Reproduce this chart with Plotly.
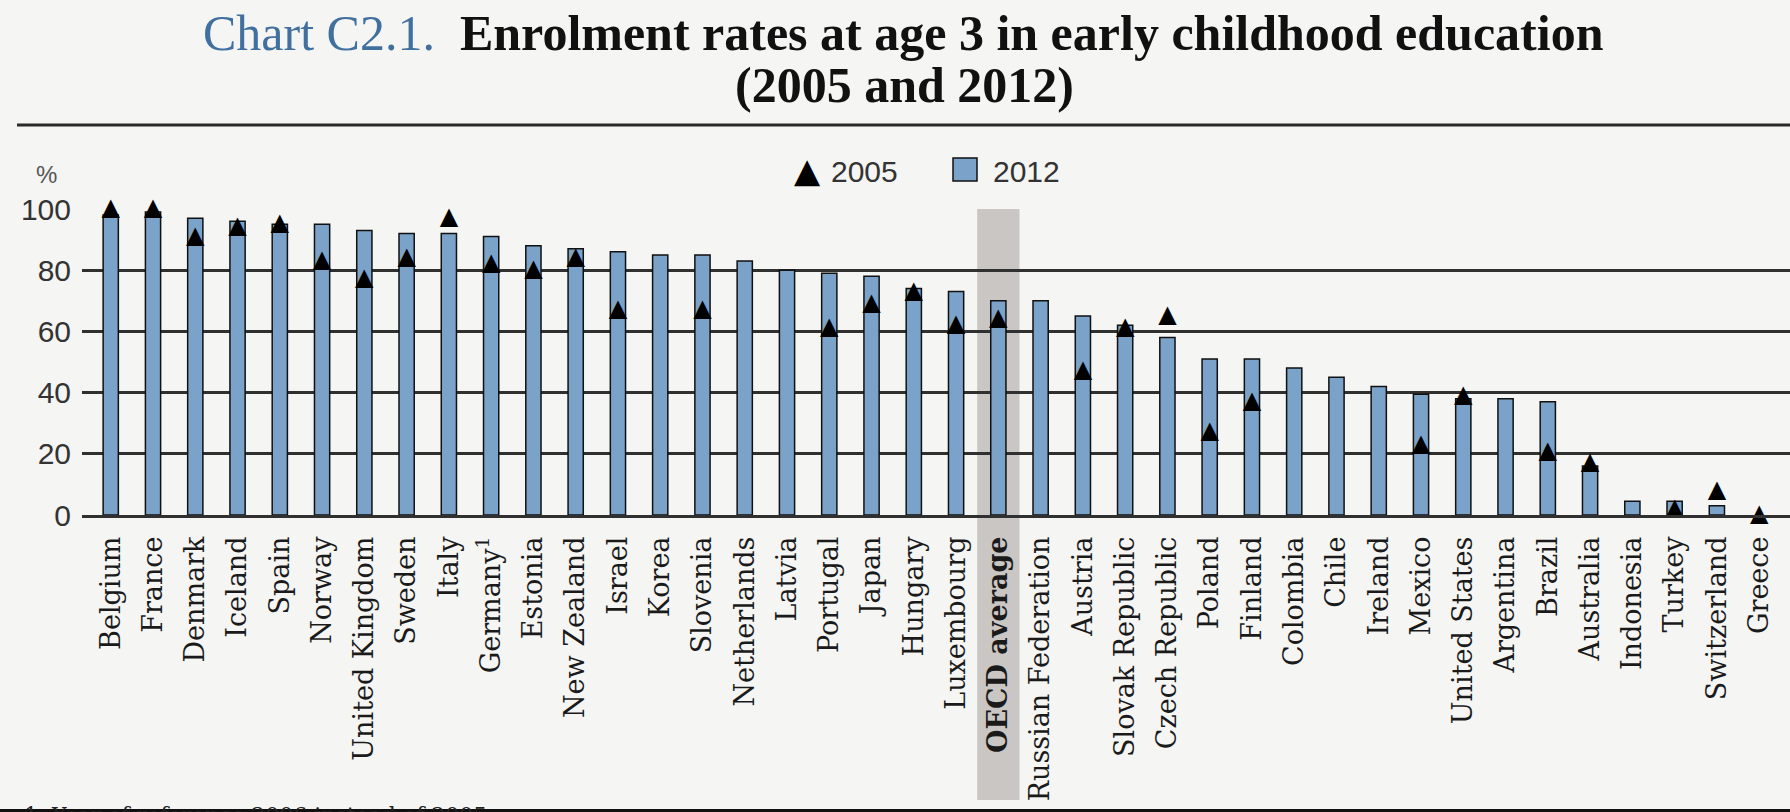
import plotly.graph_objects as go

# ---------------- data ----------------
countries = ["Belgium", "France", "Denmark", "Iceland", "Spain", "Norway", "United Kingdom",
             "Sweden", "Italy", "Germany", "Estonia", "New Zealand", "Israel", "Korea",
             "Slovenia", "Netherlands", "Latvia", "Portugal", "Japan", "Hungary", "Luxembourg",
             "OECD average", "Russian Federation", "Austria", "Slovak Republic", "Czech Republic",
             "Poland", "Finland", "Colombia", "Chile", "Ireland", "Mexico", "United States",
             "Argentina", "Brazil", "Australia", "Indonesia", "Turkey", "Switzerland", "Greece"]

tick_labels = ["Belgium", "France", "Denmark", "Iceland", "Spain", "Norway", "United Kingdom",
               "Sweden", "Italy", "Germany<sup>1</sup>", "Estonia", "New Zealand", "Israel", "Korea",
               "Slovenia", "Netherlands", "Latvia", "Portugal", "Japan", "Hungary", "Luxembourg",
               "<b>OECD average</b>", "Russian Federation", "Austria", "Slovak Republic", "Czech Republic",
               "Poland", "Finland", "Colombia", "Chile", "Ireland", "Mexico", "United States",
               "Argentina", "Brazil", "Australia", "Indonesia", "Turkey", "Switzerland", "Greece"]

enrol_2012 = [98, 99, 97, 96, 95, 95, 93, 92, 92, 91, 88, 87, 86, 85, 85, 83, 80, 79, 78, 74, 73,
              70, 70, 65, 62, 58, 51, 51, 48, 45, 42, 39.5, 38, 38, 37, 16, 4.5, 4.5, 3, None]

enrol_2005 = [100, 100, 91, 94, 95, 83, 77, 84, 97, 82, 80, 84, 67, None, 67, None, None, 61, 69,
              73, 62, 64, None, 47, 61, 65, 27, 37, None, None, None, 23, 39, None, 20.5, 17,
              None, 2, 8, 0]

y_ticks = [0, 20, 40, 60, 80, 100]
series_names = ["2005", "2012"]
highlight = "OECD average"

# ---------------- style ----------------
W, H = 1790, 812
L, R, T, B = 82, 0, 209, 297
PW, PH = W - L - R, H - T - B
BG = "#f5f5f4"
BLUE = "#7ba2c8"
GRID = "#303030"
BAND = "#c9c6c3"


def px_x(p):
    return (p - L) / PW


def px_y(p):
    return (H - B - p) / PH


fig = go.Figure()

fig.add_trace(go.Bar(
    x=countries, y=enrol_2012, name=series_names[1], width=0.36,
    marker=dict(color=BLUE, line=dict(color="#111111", width=1.5)),
    showlegend=False,
))

x05 = [c for c, v in zip(countries, enrol_2005) if v is not None]
y05 = [v for v in enrol_2005 if v is not None]
fig.add_trace(go.Scatter(
    x=x05, y=y05, name=series_names[0], mode="text",
    text=["\u25B2"] * len(y05),
    textposition="middle center",
    textfont=dict(family="DejaVu Sans", size=24, color="#000000"),
    cliponaxis=False, showlegend=False,
))

hi = countries.index(highlight)
shapes = [
    # OECD average band
    dict(type="rect", xref="x", yref="paper", x0=hi - 0.5, x1=hi + 0.5,
         y0=px_y(800), y1=1, fillcolor=BAND, line=dict(width=0), layer="below"),
    # rule under title
    dict(type="line", xref="paper", yref="paper", x0=px_x(17), x1=1.01,
         y0=px_y(125), y1=px_y(125), line=dict(color="#2a2a2a", width=3)),
    # legend square
    dict(type="rect", xref="paper", yref="paper", x0=px_x(953), x1=px_x(977),
         y0=px_y(181), y1=px_y(158), fillcolor=BLUE, line=dict(color="#111111", width=1.5)),
    # bottom dark edge
    dict(type="rect", xref="paper", yref="paper", x0=-0.1, x1=1.1,
         y0=px_y(830), y1=px_y(809), fillcolor="#111111", line=dict(width=0), layer="above"),
]

annotations = [
    dict(text='<span style="color:#41709f">Chart C2.1.</span>\u00a0\u00a0<b>Enrolment rates at age 3 in early childhood education</b>',
         x=px_x(903), y=px_y(33), xref="paper", yref="paper", xanchor="center", yanchor="middle",
         showarrow=False, font=dict(family="Liberation Serif", size=50, color="#111111")),
    dict(text="<b>(2005 and 2012)</b>",
         x=px_x(904), y=px_y(85), xref="paper", yref="paper", xanchor="center", yanchor="middle",
         showarrow=False, font=dict(family="Liberation Serif", size=50, color="#111111")),
    dict(text="%", x=px_x(46), y=px_y(174), xref="paper", yref="paper", xanchor="center",
         yanchor="middle", showarrow=False, font=dict(family="Liberation Sans", size=24, color="#555555")),
    # legend
    dict(text="\u25B2", x=px_x(807), y=px_y(170), xref="paper", yref="paper", xanchor="center",
         yanchor="middle", showarrow=False, font=dict(family="DejaVu Sans", size=34, color="#000000")),
    dict(text=series_names[0], x=px_x(829), y=px_y(171), xref="paper", yref="paper", xanchor="left",
         yanchor="middle", showarrow=False, font=dict(family="Liberation Sans", size=30, color="#333333")),
    dict(text=series_names[1], x=px_x(991), y=px_y(171), xref="paper", yref="paper", xanchor="left",
         yanchor="middle", showarrow=False, font=dict(family="Liberation Sans", size=30, color="#333333")),
    # footnote (cut off at the bottom)
    dict(text="1. Year of reference 2006 instead of 2005.", x=px_x(22), y=px_y(801), xref="paper",
         yref="paper", xanchor="left", yanchor="top", showarrow=False,
         font=dict(family="DejaVu Serif", size=22, color="#222222")),
]

fig.update_layout(
    width=W, height=H,
    margin=dict(l=L, r=R, t=T, b=B, pad=0, autoexpand=False),
    paper_bgcolor=BG, plot_bgcolor=BG,
    shapes=shapes, annotations=annotations,
    showlegend=False,
    bargap=0.6,
)

fig.update_xaxes(
    type="category", range=[-0.68, len(countries) - 1 + 0.73], automargin=False,
    tickmode="array", tickvals=countries, ticktext=tick_labels, tickangle=-90,
    tickfont=dict(family="DejaVu Serif", size=27, color="#1a1a1a"),
    showgrid=False, showline=True, linecolor=GRID, linewidth=2.5,
    ticks="", ticklabelstandoff=8, fixedrange=True,
)

fig.update_yaxes(
    range=[0, 100], tickmode="array", tickvals=y_ticks, automargin=False,
    tickfont=dict(family="Liberation Sans", size=30, color="#333333"),
    showgrid=True, gridcolor=GRID, gridwidth=2.5, zeroline=False, showline=False,
    ticks="", ticklabelstandoff=10, fixedrange=True,
)

fig.write_html(
    "out.html",
    config={"displayModeBar": False},
    post_script="document.body.style.margin='0';document.body.style.background='%s';"
                "document.body.style.overflow='hidden';" % BG,
)
